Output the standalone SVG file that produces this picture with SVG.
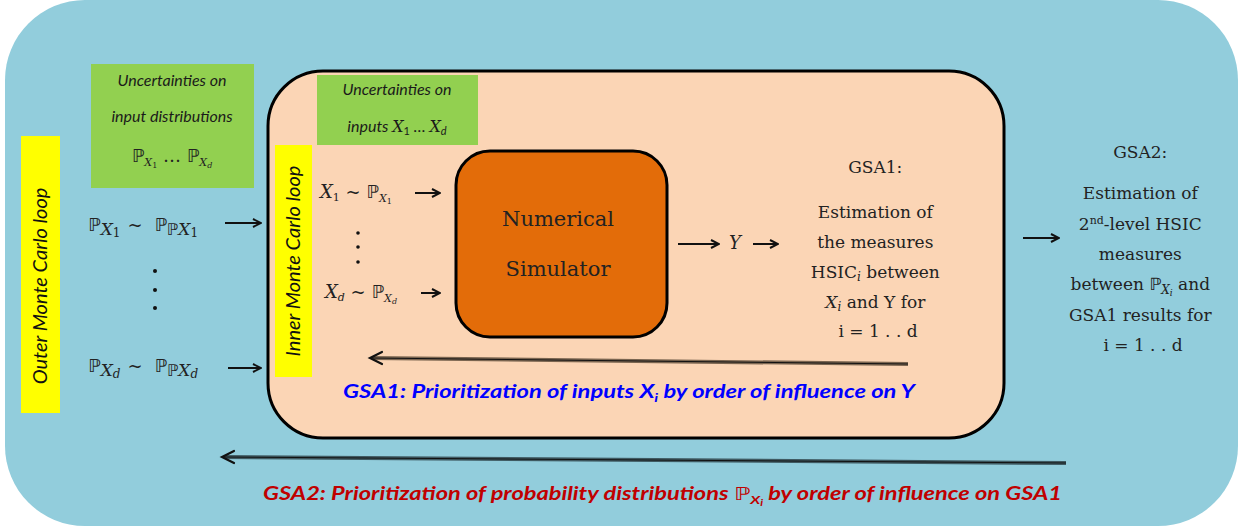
<svg xmlns="http://www.w3.org/2000/svg" width="1242" height="529" viewBox="0 0 1242 529">
<defs>
<style>
.lab{font-family:Lato,"Liberation Sans",sans-serif;font-style:italic;font-size:16px;fill:#1a1a1a}
.ser{font-family:"DejaVu Serif","Liberation Serif",serif;fill:#222}
.math{font-family:"DejaVu Serif","Liberation Serif",serif;fill:#222;font-size:18px}
.mi{font-style:italic}
.bb{font-family:"DejaVu Sans",sans-serif;font-style:normal}
.loop{font-family:Lato,"Liberation Sans",sans-serif;font-style:italic;font-size:20px;fill:#111}
.arr{stroke:#111;stroke-width:2;fill:none;marker-end:url(#ah)}
.fb{fill:none}
</style>
<marker id="ah" viewBox="0 0 10 10" refX="9" refY="5" markerWidth="5" markerHeight="5" orient="auto" markerUnits="strokeWidth">
<path d="M1,1 L9,5 L1,9" fill="none" stroke="#111" stroke-width="2"/>
</marker>
</defs>
<g id="outer">
<rect x="5" y="0" width="1233" height="526" rx="80" ry="80" fill="#92CDDC"/>
</g>
<g id="inner">
<rect x="268" y="71" width="736" height="367" rx="55" ry="55" fill="#FBD5B5" stroke="#000" stroke-width="3"/>
</g>
<g id="outer-loop-label">
<rect x="21" y="136" width="39" height="277" fill="#FFFF00"/>
<text class="loop" transform="translate(47,286) rotate(-90)" text-anchor="middle">Outer Monte Carlo loop</text>
</g>
<g id="inner-loop-label">
<rect x="275" y="145" width="37" height="232" fill="#FFFF00"/>
<text class="loop" transform="translate(300,261) rotate(-90)" text-anchor="middle" font-size="19">Inner Monte Carlo loop</text>
</g>
<g id="uncert-dist">
<rect x="91" y="64" width="163" height="124" fill="#92D050"/>
<text class="lab" x="172" y="86" text-anchor="middle">Uncertainties on</text>
<text class="lab" x="172" y="122" text-anchor="middle">input  distributions</text>
<text class="math" x="172" y="162" text-anchor="middle" font-size="17"><tspan class="bb">ℙ</tspan><tspan class="mi" font-size="11" dy="4">X</tspan><tspan font-size="8" dy="2">1</tspan><tspan dy="-6"> … </tspan><tspan class="bb">ℙ</tspan><tspan class="mi" font-size="11" dy="4">X</tspan><tspan class="mi" font-size="8" dy="2">d</tspan></text>
</g>
<g id="uncert-inputs">
<rect x="317" y="75" width="161" height="70" fill="#92D050"/>
<text class="lab" x="397" y="95" text-anchor="middle">Uncertainties on</text>
<text class="lab" x="397" y="132" text-anchor="middle">inputs  <tspan font-family="DejaVu Serif">X</tspan><tspan font-size="11" font-style="normal" dy="3">1</tspan><tspan dy="-3"> … </tspan><tspan font-family="DejaVu Serif">X</tspan><tspan font-size="11" dy="3">d</tspan></text>
</g>
<g id="outer-samples">
<text class="math" x="88" y="231" font-size="22"><tspan class="bb">ℙ</tspan><tspan class="mi" font-size="17" dy="4">X</tspan><tspan font-size="12" dy="2">1</tspan><tspan dy="-6" dx="7">~</tspan><tspan class="bb" dx="12">ℙ</tspan><tspan class="bb" font-size="16" dy="4">ℙ</tspan><tspan class="mi" font-size="17">X</tspan><tspan font-size="12" dy="2">1</tspan></text>
<circle cx="155" cy="271" r="2" fill="#111"/>
<circle cx="155" cy="290" r="2" fill="#111"/>
<circle cx="155" cy="308" r="2" fill="#111"/>
<text class="math" x="88" y="372" font-size="22"><tspan class="bb">ℙ</tspan><tspan class="mi" font-size="17" dy="4">X</tspan><tspan class="mi" font-size="12" dy="2">d</tspan><tspan dy="-6" dx="7">~</tspan><tspan class="bb" dx="12">ℙ</tspan><tspan class="bb" font-size="16" dy="4">ℙ</tspan><tspan class="mi" font-size="17">X</tspan><tspan class="mi" font-size="12" dy="2">d</tspan></text>
</g>
<g id="inner-samples">
<text class="math" x="320" y="198" font-size="16"><tspan class="mi">X</tspan><tspan font-size="11" dy="3">1</tspan><tspan dy="-3"> ~ </tspan><tspan class="bb">ℙ</tspan><tspan class="mi" font-size="11" dy="4">X</tspan><tspan font-size="8" dy="2">1</tspan></text>
<circle cx="358" cy="233" r="1.8" fill="#111"/>
<circle cx="358" cy="247" r="1.8" fill="#111"/>
<circle cx="358" cy="262" r="1.8" fill="#111"/>
<text class="math" x="325" y="298" font-size="16"><tspan class="mi">X</tspan><tspan class="mi" font-size="11" dy="3">d</tspan><tspan dy="-3"> ~ </tspan><tspan class="bb">ℙ</tspan><tspan class="mi" font-size="11" dy="4">X</tspan><tspan class="mi" font-size="8" dy="2">d</tspan></text>
</g>
<g id="simulator">
<rect x="456" y="151" width="211" height="186" rx="34" ry="34" fill="#E36C09" stroke="#000" stroke-width="3"/>
<text class="ser" x="558" y="226" text-anchor="middle" font-size="21">Numerical</text>
<text class="ser" x="558" y="276" text-anchor="middle" font-size="21">Simulator</text>
</g>
<g id="output-y">
<text class="math mi" x="735" y="249" text-anchor="middle" font-size="17">Y</text>
</g>
<g id="gsa1">
<text class="ser" font-size="17" text-anchor="middle">
<tspan x="878" y="173">GSA1:</tspan>
<tspan x="878" y="218">Estimation of</tspan>
<tspan x="878" y="248">the measures</tspan>
<tspan x="878" y="278">HSIC<tspan class="mi" font-size="12" dy="3">i</tspan><tspan dy="-3"> between</tspan></tspan>
<tspan x="878" y="308"><tspan class="mi">X</tspan><tspan class="mi" font-size="12" dy="3">i</tspan><tspan dy="-3">  and Y for</tspan></tspan>
<tspan x="878" y="337">i = 1 . . d</tspan>
</text>
</g>
<g id="gsa2">
<text class="ser" font-size="17" text-anchor="middle">
<tspan x="1143" y="158">GSA2:</tspan>
<tspan x="1143" y="199">Estimation of</tspan>
<tspan x="1143" y="230">2<tspan font-size="11" dy="-6">nd</tspan><tspan dy="6">-level HSIC</tspan></tspan>
<tspan x="1143" y="260">measures</tspan>
<tspan x="1143" y="290">between <tspan class="bb">ℙ</tspan><tspan class="mi" font-size="12" dy="4">X</tspan><tspan class="mi" font-size="9" dy="2">i</tspan><tspan dy="-6">  and</tspan></tspan>
<tspan x="1143" y="321">GSA1 results for</tspan>
<tspan x="1143" y="351">i = 1 . . d</tspan>
</text>
</g>
<g id="connectors">
<line class="arr" x1="225" y1="223" x2="261" y2="223"/>
<line class="arr" x1="228" y1="368" x2="261" y2="368"/>
<line class="arr" x1="415" y1="193" x2="440" y2="193"/>
<line class="arr" x1="421" y1="293" x2="440" y2="293"/>
<line class="arr" x1="678" y1="244" x2="719" y2="244"/>
<line class="arr" x1="753" y1="244" x2="778" y2="244"/>
<line class="arr" x1="1023" y1="238" x2="1059" y2="238"/>
<g id="feedback-gsa1">
<path d="M908,364 L372,358" stroke="#7a6550" stroke-width="4" class="fb"/>
<path d="M908,364 L372,358" stroke="#111" stroke-width="1" class="fb"/>
<path d="M382,352 L370,358 L382,364" stroke="#111" stroke-width="2.2" fill="none" stroke-linecap="round"/>
</g>
<g id="feedback-gsa2">
<path d="M1066,463 L224,457" stroke="#3f5a62" stroke-width="4" class="fb"/>
<path d="M1066,463 L224,457" stroke="#111" stroke-width="1" class="fb"/>
<path d="M234,451 L222,457 L234,463" stroke="#111" stroke-width="2.2" fill="none" stroke-linecap="round"/>
</g>
</g>
<g id="gsa1-caption">
<text x="343" y="398" font-family="Lato,'Liberation Sans',sans-serif" font-style="italic" font-weight="bold" font-size="18" fill="#0000FF" textLength="572" lengthAdjust="spacingAndGlyphs">GSA1: Prioritization of inputs X<tspan font-size="12" dy="4">i</tspan><tspan dy="-4"> by order of influence on Y</tspan></text>
</g>
<g id="gsa2-caption">
<text x="263" y="500" font-family="Lato,'Liberation Sans',sans-serif" font-style="italic" font-weight="bold" font-size="18" fill="#C00000" textLength="799" lengthAdjust="spacingAndGlyphs">GSA2: Prioritization of probability distributions <tspan font-family="DejaVu Sans" font-weight="normal" font-style="normal">ℙ</tspan><tspan font-size="12" dy="4">X</tspan><tspan font-size="9" dy="2">i</tspan><tspan dy="-6"> by order of influence on GSA1</tspan></text>
</g>
</svg>
